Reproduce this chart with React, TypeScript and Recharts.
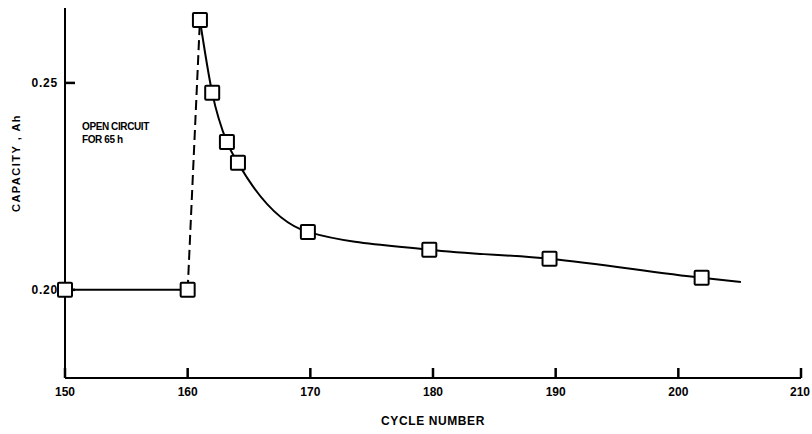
import React from "react";
import {
  ComposedChart,
  Line,
  Scatter,
  XAxis,
  YAxis,
} from "recharts";

// Data
const xTicks = [150, 160, 170, 180, 190, 200, 210];
const yTicks = [0.2, 0.25];
const xMin = 150;
const xMax = 210;
const yMin = 0.1787;
const yMax = 0.2681;

const flatCycles = [150, 160];
const flatCapacity = [0.2, 0.2];

const openCircuitCycles = [160, 161];
const openCircuitCapacity = [0.2, 0.2652];

const decayCycles = [161, 162, 163.2, 164.1, 169.8, 179.7, 189.5, 201.9, 205.1];
const decayCapacity = [0.2652, 0.2476, 0.2357, 0.2307, 0.214, 0.2097, 0.2075, 0.2029, 0.2019];

const markerCycles = [150, 160, 161, 162, 163.2, 164.1, 169.8, 179.7, 189.5, 201.9];
const markerCapacity = [0.2, 0.2, 0.2652, 0.2476, 0.2357, 0.2307, 0.214, 0.2097, 0.2075, 0.2029];

const zip = (xs: number[], ys: number[]) => xs.map((x, i) => ({ x, y: ys[i] }));

const flatData = zip(flatCycles, flatCapacity);
const dashData = zip(openCircuitCycles, openCircuitCapacity);
const decayData = zip(decayCycles, decayCapacity);
const markerData = zip(markerCycles, markerCapacity);
const xTickMarks = xTicks.map((x) => ({ x, y: yMin }));
const yTickMarks = yTicks.map((y) => ({ x: xMin, y }));

const FONT = "'Liberation Sans', Arial, sans-serif";

const XTick = (props: any) => {
  const { x, y, payload } = props;
  return (
    <text x={x} y={y + 18} textAnchor="middle" fontSize={12} fontWeight={600} fontFamily={FONT} fill="#000">
      {payload.value}
    </text>
  );
};

const YTick = (props: any) => {
  const { x, y, payload } = props;
  return (
    <text x={x - 7} y={y + 4} textAnchor="end" fontSize={12} fontWeight={600} letterSpacing={0.8} fontFamily={FONT} fill="#000">
      {Number(payload.value).toFixed(2)}
    </text>
  );
};

const SquareDot = (props: any) => {
  const { cx, cy } = props;
  if (cx == null || cy == null) return null;
  return (
    <rect x={cx - 7} y={cy - 7} width={14} height={14} fill="#fff" stroke="#000" strokeWidth={2} rx={1} />
  );
};

const VTickMark = (props: any) => {
  const { cx, cy } = props;
  if (cx == null || cy == null) return null;
  return <rect x={cx - 1.25} y={cy - 10} width={2.5} height={10} fill="#000" />;
};

const HTickMark = (props: any) => {
  const { cx, cy } = props;
  if (cx == null || cy == null) return null;
  return <rect x={cx} y={cy - 1.25} width={10} height={2.5} fill="#000" />;
};

const YTitle = () => (
  <text
    x={16}
    y={163}
    transform="rotate(-90, 16, 163)"
    textAnchor="middle"
    dominantBaseline="central"
    fontSize={11}
    fontWeight={600}
    letterSpacing={1.5}
    fontFamily={FONT}
    fill="#000"
  >
    CAPACITY , Ah
  </text>
);

export default function App() {
  return (
    <div style={{ position: "absolute", left: 0, top: 0, width: 812, height: 434, background: "#fff" }}>
      <ComposedChart
        width={812}
        height={434}
        margin={{ top: 8, right: 11, bottom: 0, left: 0 }}
      >
        <XAxis
          type="number"
          dataKey="x"
          domain={[xMin, xMax]}
          ticks={xTicks}
          height={56}
          tickSize={0}
          tickMargin={0}
          tick={<XTick />}
          axisLine={{ stroke: "#000", strokeWidth: 2 }}
          tickLine={false}
          label={{
            value: "CYCLE NUMBER",
            position: "insideBottom",
            offset: 9,
            fontSize: 12,
            fontWeight: 600,
            letterSpacing: 0.6,
            fontFamily: FONT,
            fill: "#000",
          }}
        />
        <YAxis
          type="number"
          dataKey="y"
          domain={[yMin, yMax]}
          ticks={yTicks}
          width={65}
          tickSize={0}
          tickMargin={0}
          tick={<YTick />}
          axisLine={{ stroke: "#000", strokeWidth: 2 }}
          tickLine={false}
          label={<YTitle />}
        />
        <Scatter data={xTickMarks} dataKey="y" shape={<VTickMark />} isAnimationActive={false} />
        <Scatter data={yTickMarks} dataKey="y" shape={<HTickMark />} isAnimationActive={false} />
        <Line
          data={flatData}
          dataKey="y"
          type="linear"
          stroke="#000"
          strokeWidth={2}
          dot={false}
          isAnimationActive={false}
        />
        <Line
          data={dashData}
          dataKey="y"
          type="linear"
          stroke="#000"
          strokeWidth={2}
          strokeDasharray="10 5"
          dot={false}
          isAnimationActive={false}
        />
        <Line
          data={decayData}
          dataKey="y"
          type="monotone"
          stroke="#000"
          strokeWidth={2}
          dot={false}
          isAnimationActive={false}
        />
        <Scatter data={markerData} dataKey="y" shape={<SquareDot />} isAnimationActive={false} />
      </ComposedChart>
      <div
        style={{
          position: "absolute",
          left: 82,
          top: 120,
          fontFamily: FONT,
          fontSize: 10,
          fontWeight: 600,
          letterSpacing: -0.4,
          lineHeight: "13px",
          color: "#000",
          whiteSpace: "nowrap",
        }}
      >
        OPEN CIRCUIT
        <br />
        FOR 65 h
      </div>
    </div>
  );
}
